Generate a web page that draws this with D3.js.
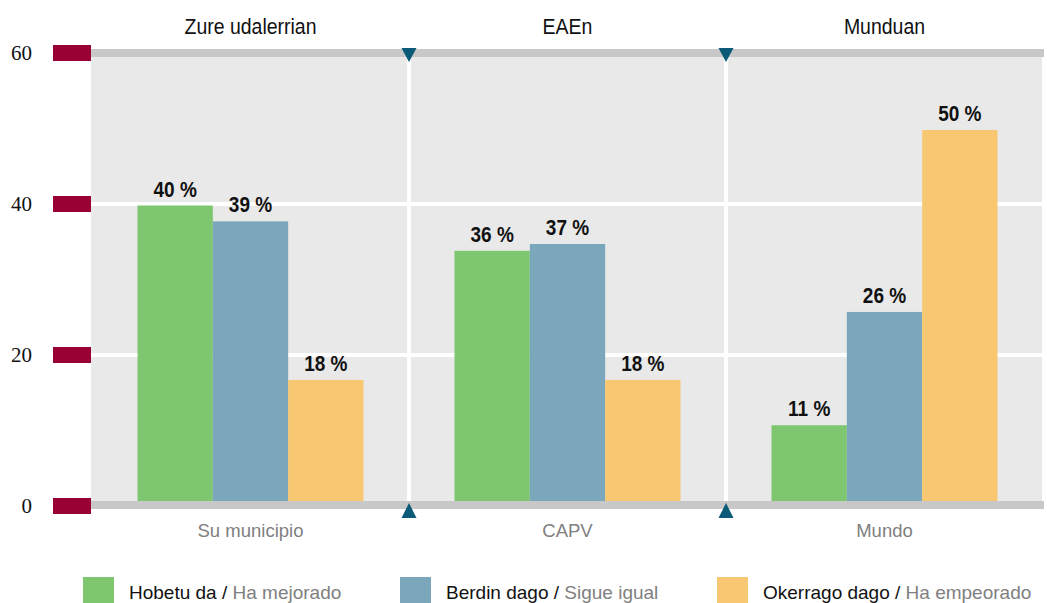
<!DOCTYPE html>
<html>
<head>
<meta charset="utf-8">
<script src="https://cdn.jsdelivr.net/npm/d3@7"></script>
<style>
  body { margin: 0; background: #fff; }
  text { font-family: "Liberation Sans", Arial, sans-serif; }
</style>
</head>
<body>
<script>
var categoriesTop = ["Zure udalerrian", "EAEn", "Munduan"];
var categoriesBottom = ["Su municipio", "CAPV", "Mundo"];
var seriesEu = ["Hobetu da", "Berdin dago", "Okerrago dago"];
var seriesEs = ["Ha mejorado", "Sigue igual", "Ha empeorado"];
var colors = ["#7fc671", "#7ba7bd", "#f8c771"];

// bar heights as drawn, and the labels printed on them
var mejorado = [39.8, 33.8, 10.7];
var igual = [37.7, 34.7, 25.7];
var empeorado = [16.7, 16.7, 49.8];
var labelsMejorado = ["40 %", "36 %", "11 %"];
var labelsIgual = ["39 %", "37 %", "26 %"];
var labelsEmpeorado = ["18 %", "18 %", "50 %"];
var yTicks = [0, 20, 40, 60];

var width = 1047,
    height = 603;

var svg = d3.select("body").append("svg")
    .attr("width", width)
    .attr("height", height);

var x = d3.scaleBand().domain(d3.range(3)).range([92, 1043]);
var xs = d3.scaleBand().domain(d3.range(3))
    .range([45.5, x.bandwidth() - 45.5]);
var y = d3.scaleLinear().domain([0, 60]).range([506, 53]);

var values = [mejorado, igual, empeorado];
var labels = [labelsMejorado, labelsIgual, labelsEmpeorado];

// background
svg.append("rect")
    .attr("x", 91).attr("y", y(60))
    .attr("width", 1042 - 91).attr("height", y(0) - y(60))
    .attr("fill", "#e9e9e9");

// white gridlines
svg.selectAll("line.grid")
    .data([20, 40])
  .enter().append("line")
    .attr("class", "grid")
    .attr("x1", 91).attr("x2", 1042)
    .attr("y1", function(d) { return y(d); })
    .attr("y2", function(d) { return y(d); })
    .attr("stroke", "#fff")
    .attr("stroke-width", 4);

// separators between groups
svg.selectAll("line.sep")
    .data([1, 2])
  .enter().append("line")
    .attr("class", "sep")
    .attr("x1", function(d) { return x(d); })
    .attr("x2", function(d) { return x(d); })
    .attr("y1", y(60)).attr("y2", y(0))
    .attr("stroke", "#fff")
    .attr("stroke-width", 4);

// bars
var group = svg.selectAll("g.cat")
    .data(d3.range(3))
  .enter().append("g")
    .attr("class", "cat")
    .attr("transform", function(d) { return "translate(" + x(d) + ",0)"; });

function cells(c) {
  return d3.range(3).map(function(s) { return { s: s, v: values[s][c], l: labels[s][c] }; });
}

group.selectAll("rect")
    .data(cells)
  .enter().append("rect")
    .attr("x", function(d) { return xs(d.s); })
    .attr("y", function(d) { return y(d.v); })
    .attr("width", xs.bandwidth())
    .attr("height", function(d) { return y(0) - y(d.v); })
    .attr("fill", function(d) { return colors[d.s]; });

group.selectAll("text.val")
    .data(cells)
  .enter().append("text")
    .attr("class", "val")
    .attr("transform", function(d) {
      return "translate(" + (xs(d.s) + xs.bandwidth() / 2) + "," + (y(d.v) - 9) + ") scale(0.95,1.06)";
    })
    .attr("text-anchor", "middle")
    .attr("font-size", "20px")
    .attr("font-weight", "bold")
    .attr("fill", "#111")
    .text(function(d) { return d.l; });

// top and bottom gray bands
svg.append("rect")
    .attr("x", 91).attr("y", y(60) - 4)
    .attr("width", 1044 - 91).attr("height", 8)
    .attr("fill", "#c8c8c8");
svg.append("rect")
    .attr("x", 91).attr("y", y(0) - 5)
    .attr("width", 1044 - 91).attr("height", 8)
    .attr("fill", "#c8c8c8");

// triangles
svg.selectAll("path.tri-top")
    .data([1, 2])
  .enter().append("path")
    .attr("class", "tri-top")
    .attr("d", function(d) { var cx = x(d); return "M" + (cx - 7.5) + ",48L" + (cx + 7.5) + ",48L" + cx + ",62Z"; })
    .attr("fill", "#0b5a78");
svg.selectAll("path.tri-bot")
    .data([1, 2])
  .enter().append("path")
    .attr("class", "tri-bot")
    .attr("d", function(d) { var cx = x(d); return "M" + (cx - 7.5) + ",518L" + (cx + 7.5) + ",518L" + cx + ",503Z"; })
    .attr("fill", "#0b5a78");

// y ticks
svg.selectAll("rect.tick")
    .data(yTicks)
  .enter().append("rect")
    .attr("class", "tick")
    .attr("x", 53).attr("width", 38)
    .attr("y", function(d) { return y(d) - 8; })
    .attr("height", 16)
    .attr("fill", "#990033");

svg.selectAll("text.ytick")
    .data(yTicks)
  .enter().append("text")
    .attr("class", "ytick")
    .attr("x", 32)
    .attr("y", function(d) { return y(d) + 7; })
    .attr("text-anchor", "end")
    .attr("font-size", "21px")
    .style("font-family", "'Liberation Serif', serif")
    .attr("fill", "#111")
    .text(function(d) { return d; });

// category labels
svg.selectAll("text.top")
    .data(categoriesTop)
  .enter().append("text")
    .attr("class", "top")
    .attr("transform", function(d, i) { return "translate(" + (x(i) + x.bandwidth() / 2) + ",34) scale(0.95,1.05)"; })
    .attr("text-anchor", "middle")
    .attr("font-size", "20.5px")
    .attr("fill", "#111")
    .text(function(d) { return d; });

svg.selectAll("text.bottom")
    .data(categoriesBottom)
  .enter().append("text")
    .attr("class", "bottom")
    .attr("x", function(d, i) { return x(i) + x.bandwidth() / 2; })
    .attr("y", 537)
    .attr("text-anchor", "middle")
    .attr("font-size", "18.5px")
    .attr("fill", "#808080")
    .text(function(d) { return d; });

// legend
var legend = svg.selectAll("g.legend")
    .data(d3.range(3))
  .enter().append("g")
    .attr("class", "legend")
    .attr("transform", function(d) { return "translate(" + (x(d) - 9) + ",577)"; });

legend.append("rect")
    .attr("width", 31).attr("height", 30)
    .attr("fill", function(d) { return colors[d]; });

var lt = legend.append("text")
    .attr("x", 46).attr("y", 22)
    .attr("font-size", "19px");
lt.append("tspan").attr("fill", "#111").text(function(d) { return seriesEu[d] + " / "; });
lt.append("tspan").attr("fill", "#808080").text(function(d) { return seriesEs[d]; });
</script>
</body>
</html>
